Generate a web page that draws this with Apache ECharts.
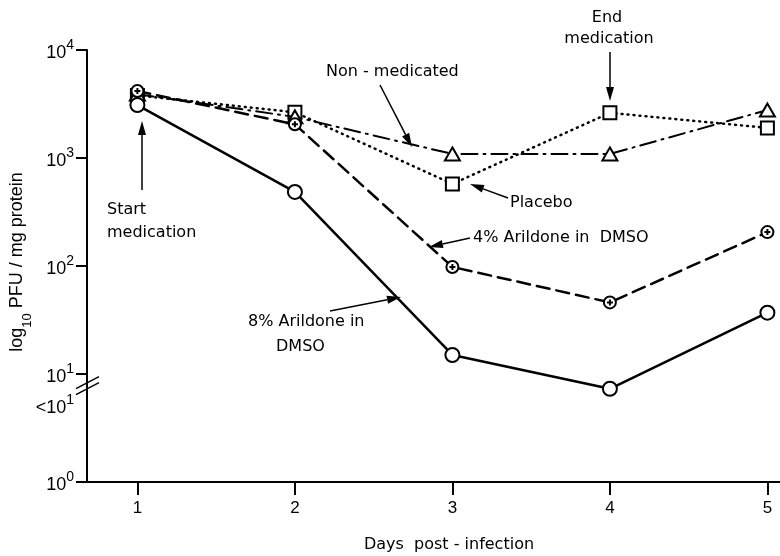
<!DOCTYPE html>
<html>
<head>
<meta charset="utf-8">
<script src="https://cdn.jsdelivr.net/npm/echarts@6/dist/echarts.min.js"></script>
<style>
  html, body { margin: 0; padding: 0; background: #fff; }
  #chart { width: 780px; height: 556px; }
</style>
</head>
<body>
<div id="chart"></div>
<script>
// values (PFU / mg protein, log scale)
const days = [1, 2, 3, 4, 5];
const nonMedicated = [3900, 2400, 1090, 1090, 2780];
const placebo = [3800, 2650, 575, 2620, 1900];
const arildone4 = [4170, 2050, 98, 46, 206];
const arildone8 = [3090, 485, 15, 7.3, 37];
const xTicks = [1, 2, 3, 4, 5];
const yTickExponents = [0, 1, 2, 3, 4];

const chart = echarts.init(document.getElementById('chart'));
const FONT = '"DejaVu Sans", sans-serif';
const AXFONT = '"Liberation Sans", Arial, sans-serif';

const pairs = vals => days.map((d, i) => [d, vals[i]]);
const markerStyle = { color: '#fff', borderColor: '#000', borderWidth: 2 };
const plusCircle = 'path://M0,-10A10,10,0,1,1,0,10A10,10,0,1,1,0,-10ZM-5,0L5,0M0,-5L0,5';

function lineSeries(name, vals, symbol, size, type, width, z) {
  return {
    name, type: 'line', data: pairs(vals), symbol, symbolSize: size, z,
    lineStyle: { color: '#000', width, type, cap: 'round' },
    itemStyle: markerStyle, animation: false
  };
}

chart.setOption({
  animation: false,
  grid: { left: 87, right: 0, top: 50, bottom: 74 },
  xAxis: {
    type: 'value', min: 0.68, max: 5.08,
    axisLine: { lineStyle: { color: '#000', width: 2 } },
    axisTick: { customValues: xTicks, length: 13, lineStyle: { color: '#000', width: 2 } },
    axisLabel: { customValues: xTicks, margin: 18, color: '#000', fontSize: 17, fontFamily: AXFONT },
    splitLine: { show: false }
  },
  yAxis: {
    type: 'log', logBase: 10, min: 1, max: 10000,
    axisLine: { show: true, lineStyle: { color: '#000', width: 2 } },
    axisTick: { show: true, length: 11, lineStyle: { color: '#000', width: 2 } },
    minorTick: { show: false },
    splitLine: { show: false },
    axisLabel: {
      margin: 13, color: '#000', fontFamily: AXFONT,
      formatter: v => {
        const e = Math.round(Math.log10(v));
        return yTickExponents.includes(e) ? '{b|10}{s|' + e + '}' : '';
      },
      rich: {
        b: { fontSize: 18, fontFamily: AXFONT, color: '#000', lineHeight: 24, verticalAlign: 'bottom' },
        s: { fontSize: 14, fontFamily: AXFONT, color: '#000', lineHeight: 24, verticalAlign: 'top' }
      }
    }
  },
  series: [
    lineSeries('Placebo', placebo, 'rect', 13, [1, 5], 2.5, 3),
    lineSeries('Non-medicated', nonMedicated, 'triangle', [15, 13], [16, 6, 2, 6], 2, 4),
    lineSeries('4% Arildone in DMSO', arildone4, plusCircle, 12, [13, 7], 2.5, 5),
    lineSeries('8% Arildone in DMSO', arildone8, 'circle', 14, 'solid', 2.5, 6)
  ]
});

function text(str, x, y, align) {
  return { type: 'text', x, y, silent: true,
    style: { text: str, fill: '#000', font: '16px ' + FONT, textAlign: align || 'left', textVerticalAlign: 'middle' } };
}
function arrow(x1, y1, x2, y2) {
  const a = Math.atan2(y2 - y1, x2 - x1), L = 14, W = 4;
  const bx = x2 - L * Math.cos(a), by = y2 - L * Math.sin(a);
  return [
    { type: 'line', silent: true, shape: { x1, y1, x2: bx, y2: by }, style: { stroke: '#000', lineWidth: 1.5 } },
    { type: 'polygon', silent: true, shape: { points: [[x2, y2],
      [bx + W * Math.sin(a), by - W * Math.cos(a)], [bx - W * Math.sin(a), by + W * Math.cos(a)]] },
      style: { fill: '#000' } }
  ];
}

const axisX = chart.convertToPixel({ xAxisIndex: 0 }, 0.68);
const breakY = chart.convertToPixel({ yAxisIndex: 0 }, 7.8);

const graphics = [
  // y axis title
  { type: 'text', x: 21, y: 262, rotation: Math.PI / 2, silent: true,
    style: { text: '{a|log}{u|10}{a| PFU / mg protein}', textAlign: 'center', textVerticalAlign: 'middle',
      rich: {
        a: { fontSize: 18, fontFamily: AXFONT, fill: '#000', lineHeight: 26, verticalAlign: 'top' },
        u: { fontSize: 13, fontFamily: AXFONT, fill: '#000', lineHeight: 26, verticalAlign: 'bottom' }
      } } },
  // x axis title
  text('Days  post - infection', 449, 545, 'center'),
  // axis break and "<10^1"
  { type: 'line', silent: true, shape: { x1: axisX - 11, y1: breakY + 3, x2: axisX + 12, y2: breakY - 9 }, style: { stroke: '#000', lineWidth: 1.5 } },
  { type: 'line', silent: true, shape: { x1: axisX - 11, y1: breakY + 9, x2: axisX + 12, y2: breakY - 3 }, style: { stroke: '#000', lineWidth: 1.5 } },
  { type: 'text', x: 74, y: breakY + 19, silent: true,
    style: { text: '{b|<10}{s|1}', textAlign: 'right', textVerticalAlign: 'middle',
      rich: {
        b: { fontSize: 18, fontFamily: AXFONT, fill: '#000', lineHeight: 24, verticalAlign: 'bottom' },
        s: { fontSize: 14, fontFamily: AXFONT, fill: '#000', lineHeight: 24, verticalAlign: 'top' }
      } } },
  // annotations
  text('Start', 107, 210), text('medication', 107, 233),
  ...arrow(142, 190, 142, 121),
  text('Non - medicated', 326, 72),
  ...arrow(380, 85, 412, 147),
  text('End', 607, 18, 'center'), text('medication', 609, 39, 'center'),
  ...arrow(610, 52, 610, 101),
  text('Placebo', 510, 203),
  ...arrow(508, 198, 470, 184),
  text('4% Arildone in  DMSO', 473, 238),
  ...arrow(470, 238, 429, 247),
  text('8% Arildone in', 248, 322), text('DMSO', 276, 347),
  ...arrow(330, 311, 401, 297)
];

chart.setOption({ graphic: graphics });
</script>
</body>
</html>
